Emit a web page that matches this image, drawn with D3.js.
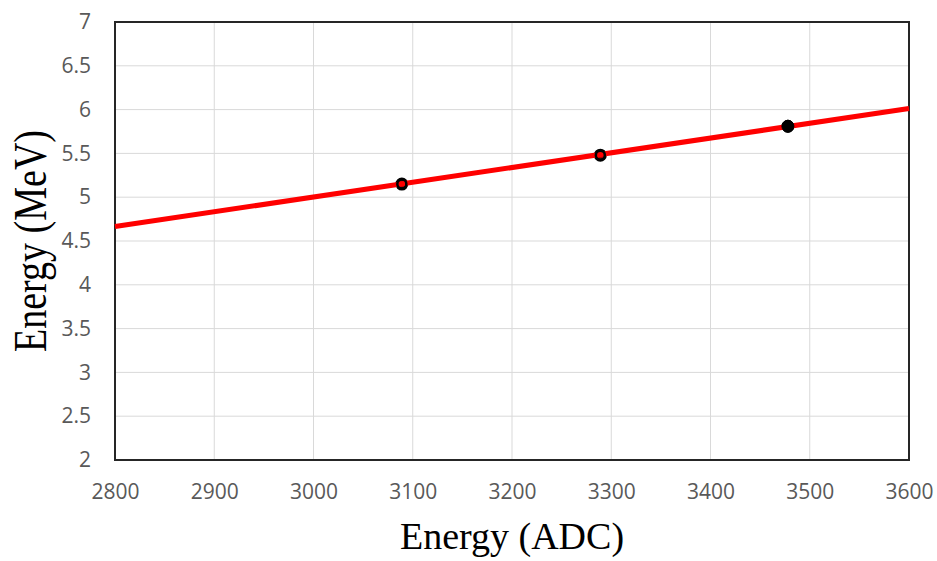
<!DOCTYPE html>
<html>
<head>
<meta charset="utf-8">
<script src="https://cdn.jsdelivr.net/npm/d3@7"></script>
<style>
  html, body { margin: 0; padding: 0; background: #fff; }
  svg { display: block; }
</style>
</head>
<body>
<svg id="chart" width="937" height="561"></svg>
<script>
// Calibration points: ADC channel vs. known alpha energy
const adcValues = [3089, 3289, 3478];
const energyValues = [5.15, 5.48, 5.81];

// Linear fit, evaluated at the ends of the x range
const fitAdc = [2800, 3600];
const fitEnergy = [4.665, 6.012];

const xTicks = [2800, 2900, 3000, 3100, 3200, 3300, 3400, 3500, 3600];
const yTicks = [2, 2.5, 3, 3.5, 4, 4.5, 5, 5.5, 6, 6.5, 7];

const xLabel = "Energy (ADC)";
const yLabel = "Energy (MeV)";

const margin = { left: 115, right: 28, top: 22, bottom: 101 };
const W = 937, H = 561;
const iw = W - margin.left - margin.right;
const ih = H - margin.top - margin.bottom;

const svg = d3.select("#chart");
const g = svg.append("g").attr("transform", `translate(${margin.left},${margin.top})`);

const x = d3.scaleLinear().domain([2800, 3600]).range([0, iw]);
const y = d3.scaleLinear().domain([2, 7]).range([ih, 0]);

// Gridlines
g.append("g")
  .selectAll("line")
  .data(xTicks)
  .join("line")
  .attr("x1", d => x(d)).attr("x2", d => x(d))
  .attr("y1", 0).attr("y2", ih)
  .attr("stroke", "#d9d9d9").attr("stroke-width", 1);

g.append("g")
  .selectAll("line")
  .data(yTicks)
  .join("line")
  .attr("x1", 0).attr("x2", iw)
  .attr("y1", d => y(d)).attr("y2", d => y(d))
  .attr("stroke", "#d9d9d9").attr("stroke-width", 1);

// Axes (labels only; frame drawn separately)
const tickFont = "'Open Sans', 'Liberation Sans', sans-serif";

const xAxis = g.append("g")
  .attr("transform", `translate(0,${ih})`)
  .call(d3.axisBottom(x).tickValues(xTicks).tickSize(0).tickPadding(24).tickFormat(d3.format("d")));
const yAxis = g.append("g")
  .call(d3.axisLeft(y).tickValues(yTicks).tickSize(0).tickPadding(24).tickFormat(d => String(d)));

[xAxis, yAxis].forEach(a => {
  a.select(".domain").remove();
  a.selectAll("text")
    .attr("fill", "#595959")
    .style("font-family", tickFont)
    .style("font-size", "21px");
});

// Plot frame
g.append("rect")
  .attr("x", 0).attr("y", 0).attr("width", iw).attr("height", ih)
  .attr("fill", "none").attr("stroke", "#262626").attr("stroke-width", 2);

// Points under the fit line
const pts = adcValues.map((v, i) => ({ adc: v, e: energyValues[i] }));

g.append("g")
  .selectAll("circle")
  .data(pts)
  .join("circle")
  .attr("cx", d => x(d.adc))
  .attr("cy", d => y(d.e))
  .attr("r", (d, i) => i === 2 ? 6 : 5)
  .attr("fill", (d, i) => i === 2 ? "#000" : "#b00000")
  .attr("stroke", "#000")
  .attr("stroke-width", (d, i) => i === 2 ? 1 : 3);

// Fit line
const fit = fitAdc.map((v, i) => ({ adc: v, e: fitEnergy[i] }));
g.append("path")
  .datum(fit)
  .attr("fill", "none")
  .attr("stroke", "#ff0000")
  .attr("stroke-width", 5)
  .attr("d", d3.line().x(d => x(d.adc)).y(d => y(d.e)));

// Point outlines on top of the line
g.append("g")
  .selectAll("circle")
  .data(pts)
  .join("circle")
  .attr("cx", d => x(d.adc))
  .attr("cy", d => y(d.e))
  .attr("r", (d, i) => i === 2 ? 6 : 4.5)
  .attr("fill", (d, i) => i === 2 ? "#000" : "none")
  .attr("stroke", "#000")
  .attr("stroke-width", (d, i) => i === 2 ? 1 : 2.5);

// Axis titles
const titleFont = "'Liberation Serif', 'Times New Roman', serif";

svg.append("text")
  .attr("x", margin.left + iw / 2)
  .attr("y", 549)
  .attr("text-anchor", "middle")
  .style("font-family", titleFont)
  .style("font-size", "38px")
  .attr("fill", "#000")
  .text(xLabel);

svg.append("text")
  .attr("transform", `translate(46,${margin.top + ih / 2}) scale(1.2,1) rotate(-90)`)
  .attr("text-anchor", "middle")
  .style("font-family", titleFont)
  .style("font-size", "38px")
  .attr("fill", "#000")
  .text(yLabel);
</script>
</body>
</html>
